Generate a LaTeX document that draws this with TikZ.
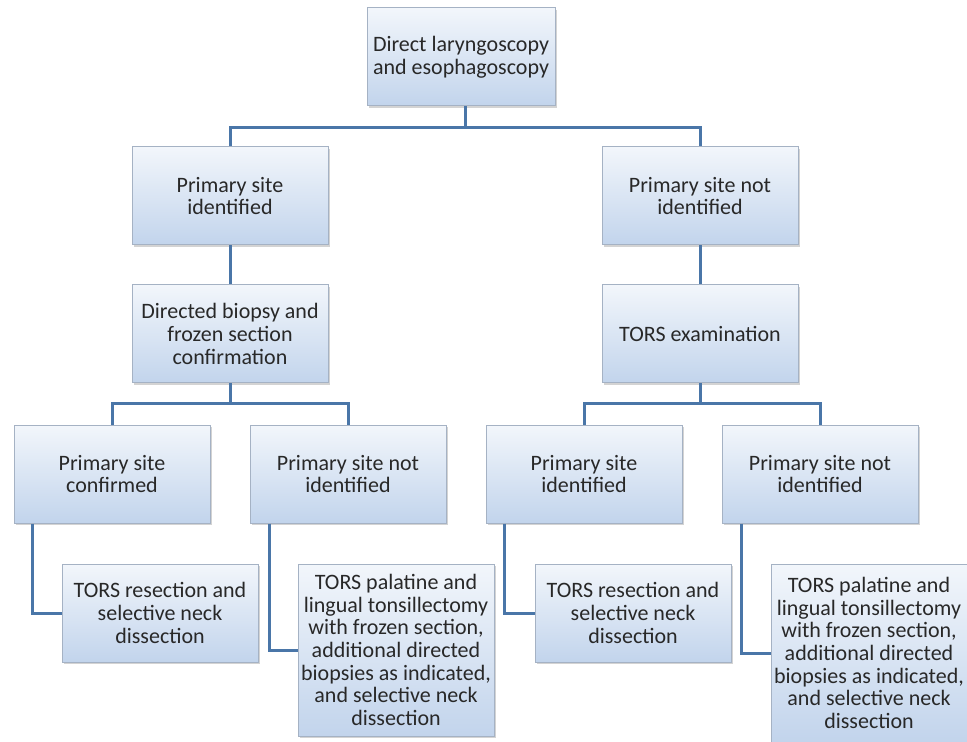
\documentclass[tikz,border=0pt]{standalone}
\usepackage{fontspec}
\setmainfont{Carlito}
\usetikzlibrary{positioning,shadows}
\definecolor{boxtop}{RGB}{242,246,251}
\definecolor{boxbot}{RGB}{194,212,236}
\definecolor{boxline}{RGB}{165,178,196}
\definecolor{lnkcol}{RGB}{74,118,168}
\definecolor{txtcol}{RGB}{40,40,40}
\tikzset{
  doboz/.style={draw=boxline,line width=0.5pt,top color=boxtop,bottom color=boxbot,
                minimum width=98pt,minimum height=49pt,inner sep=1pt,align=center,
                text=txtcol,font=\fontsize{11}{11.3}\selectfont,
                drop shadow={opacity=0.35,shadow xshift=1pt,shadow yshift=-1.2pt}},
  lnk/.style={draw=lnkcol,line width=1.5pt},
}
\begin{document}
\begin{tikzpicture}[x=0.5pt,y=-0.5pt]
  \useasboundingbox (0,0) rectangle (967,742);
  % gyoker
  \node[doboz,minimum width=94pt] (top) at (461,57) {Direct laryngoscopy\\and esophagoscopy};
  % elso szint
  \node[doboz] (L1) at (230,196) {Primary site\\identified};
  \node[doboz] (R1) at (700,196) {Primary site not\\identified};
  % masodik szint
  \node[doboz] (L2) at (230,334) {Directed biopsy and\\frozen section\\confirmation};
  \node[doboz] (R2) at (700,334) {TORS examination};
  % harmadik szint
  \node[doboz] (L3a) at (112,474) {Primary site\\confirmed};
  \node[doboz] (L3b) at (348,474) {Primary site not\\identified};
  \node[doboz] (R3a) at (584,474) {Primary site\\identified};
  \node[doboz] (R3b) at (820,474) {Primary site not\\identified};
  % kezeles
  \node[doboz] (L4a) at (160,613) {TORS resection and\\selective neck\\dissection};
  \node[doboz,minimum height=86pt] (L4b) at (396,650) {TORS palatine and\\lingual tonsillectomy\\with frozen section,\\additional directed\\biopsies as indicated,\\and selective neck\\dissection};
  \node[doboz,minimum height=89pt] (R4b) at (869,653) {TORS palatine and\\lingual tonsillectomy\\with frozen section,\\additional directed\\biopsies as indicated,\\and selective neck\\dissection};
  \node[doboz] (R4a) at (633,613) {TORS resection and\\selective neck\\dissection};
  % osszekotok
  \coordinate (j0) at (465,128);
  \coordinate (jL) at (230,403);
  \coordinate (jR) at (700,403);
  \draw[lnk] (top.south -| j0) -- (j0);
  \draw[lnk] (L1.north) |- (j0) -| (R1.north);
  \draw[lnk] (L1) -- (L2);
  \draw[lnk] (R1) -- (R2);
  \draw[lnk] (L2.south) -- (jL);
  \draw[lnk] (L3a.north) |- (jL) -| (L3b.north);
  \draw[lnk] (R2.south) -- (jR);
  \draw[lnk] (R3a.north) |- (jR) -| (R3b.north);
  \draw[lnk] ([xshift=9.5pt]L3a.south west) |- (L4a.west);
  \draw[lnk] ([xshift=10pt]L3b.south west) |- (L4b.west);
  \draw[lnk] ([xshift=9.5pt]R3a.south west) |- (R4a.west);
  \draw[lnk] ([xshift=10pt]R3b.south west) |- (R4b.west);
\end{tikzpicture}
\end{document}
